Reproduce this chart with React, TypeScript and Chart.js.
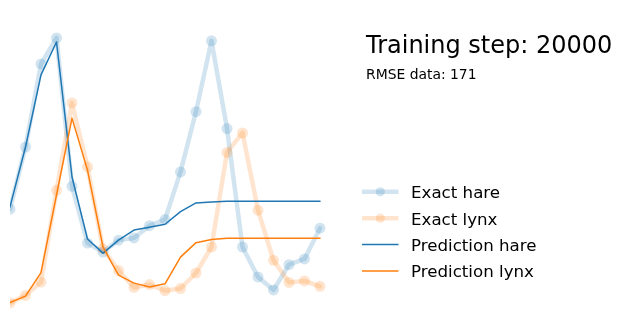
import React, { useEffect, useRef } from "react";
import { Chart, registerables } from "chart.js";

Chart.register(...registerables);

const steps = ["0","1","2","3","4","5","6","7","8","9","10","11","12","13","14","15","16","17","18","19","20"];
const exactHare = [30, 47.2, 70.2, 77.4, 36.3, 20.6, 18.1, 21.4, 22, 25.4, 27.1, 40.3, 57, 76.6, 52.3, 19.5, 11.2, 7.6, 14.6, 16.2, 24.7];
const exactLynx = [4, 6.1, 9.8, 35.2, 59.4, 41.7, 19, 13, 8.3, 9.1, 7.4, 8, 12.3, 19.5, 45.7, 51.1, 29.7, 15.8, 9.7, 10.1, 8.6];
const predHare = [30.6, 47.2, 67.2, 76.3, 38.9, 21.7, 17.8, 21.4, 24.2, 25.0, 25.8, 29.3, 31.7, 32.0, 32.2, 32.2, 32.2, 32.2, 32.2, 32.2, 32.2];
const predLynx = [4.1, 5.9, 12.4, 33.9, 55.2, 40.8, 19.5, 11.7, 9.5, 8.4, 9.3, 16.7, 20.7, 21.6, 21.9, 21.9, 21.9, 21.9, 21.9, 21.9, 21.9];
const titleText = "Training step: 20000";
const rmseText = "RMSE data: 171";

const BLUE = "#1f77b4";
const ORANGE = "#ff7f0e";
const BLUE_A = "rgba(31,119,180,0.2)";
const ORANGE_A = "rgba(255,127,14,0.2)";
const FONT = "'DejaVu Sans', sans-serif";

const textPlugin = {
  id: "textPlugin",
  afterDraw(chart: any) {
    const ctx = chart.ctx as CanvasRenderingContext2D;
    ctx.save();
    ctx.fillStyle = "#000";
    ctx.textBaseline = "alphabetic";
    ctx.textAlign = "left";
    ctx.font = `24px ${FONT}`;
    ctx.fillText(titleText, 366, 53);
    ctx.font = `13.9px ${FONT}`;
    ctx.fillText(rmseText, 366, 78.5);

    const rows = chart.data.datasets.slice();
    const y0 = 191.8;
    const dy = 26.4;
    rows.forEach((ds: any, i: number) => {
      const y = y0 + i * dy;
      ctx.save();
      ctx.strokeStyle = ds.borderColor;
      ctx.lineWidth = ds.borderWidth;
      ctx.lineCap = "butt";
      ctx.beginPath();
      ctx.moveTo(362, y);
      ctx.lineTo(398.5, y);
      ctx.stroke();
      if (ds.pointRadius > 0) {
        ctx.fillStyle = ds.pointBackgroundColor;
        ctx.beginPath();
        ctx.arc(380.3, y, 4.6, 0, Math.PI * 2);
        ctx.fill();
      }
      ctx.restore();
      ctx.fillStyle = "#000";
      ctx.font = `16.67px ${FONT}`;
      ctx.fillText(ds.label, 411, y + 6.3);
    });
    ctx.restore();
  },
};

export default function App() {
  const ref = useRef<HTMLCanvasElement | null>(null);
  useEffect(() => {
    if (!ref.current) return;
    const clip = { left: 0, top: false, right: false, bottom: false } as any;
    const chart = new Chart(ref.current, {
      type: "line",
      data: {
        labels: steps,
        datasets: [
          {
            label: "Exact hare",
            data: exactHare,
            borderColor: BLUE_A,
            borderWidth: 4.5,
            pointRadius: 5.5,
            pointBackgroundColor: BLUE_A,
            pointBorderWidth: 0,
            tension: 0,
            order: 4,
            clip,
          },
          {
            label: "Exact lynx",
            data: exactLynx,
            borderColor: ORANGE_A,
            borderWidth: 4.5,
            pointRadius: 5.5,
            pointBackgroundColor: ORANGE_A,
            pointBorderWidth: 0,
            tension: 0,
            order: 3,
            clip,
          },
          {
            label: "Prediction hare",
            data: predHare,
            borderColor: BLUE,
            borderWidth: 1.5,
            pointRadius: 0,
            tension: 0,
            order: 2,
            clip,
          },
          {
            label: "Prediction lynx",
            data: predLynx,
            borderColor: ORANGE,
            borderWidth: 1.5,
            pointRadius: 0,
            tension: 0,
            order: 1,
            clip,
          },
        ],
      },
      options: {
        animation: false,
        responsive: false,
        devicePixelRatio: 1,
        layout: { padding: { left: 10, right: 320, top: 28.6, bottom: 10.6 } },
        plugins: {
          legend: { display: false },
          tooltip: { enabled: false },
          title: { display: false },
        },
        scales: {
          x: { type: "category", display: false, offset: false },
          y: { type: "linear", display: false, min: 0, max: 80 },
        },
        elements: { line: { borderJoinStyle: "round", borderCapStyle: "round" } },
      },
      plugins: [textPlugin],
    });
    return () => chart.destroy();
  }, []);
  return (
    <div style={{ position: "fixed", left: 0, top: 0, width: 640, height: 328, background: "#fff" }}>
      <canvas ref={ref} width={640} height={328} style={{ width: 640, height: 328, display: "block" }} />
    </div>
  );
}
